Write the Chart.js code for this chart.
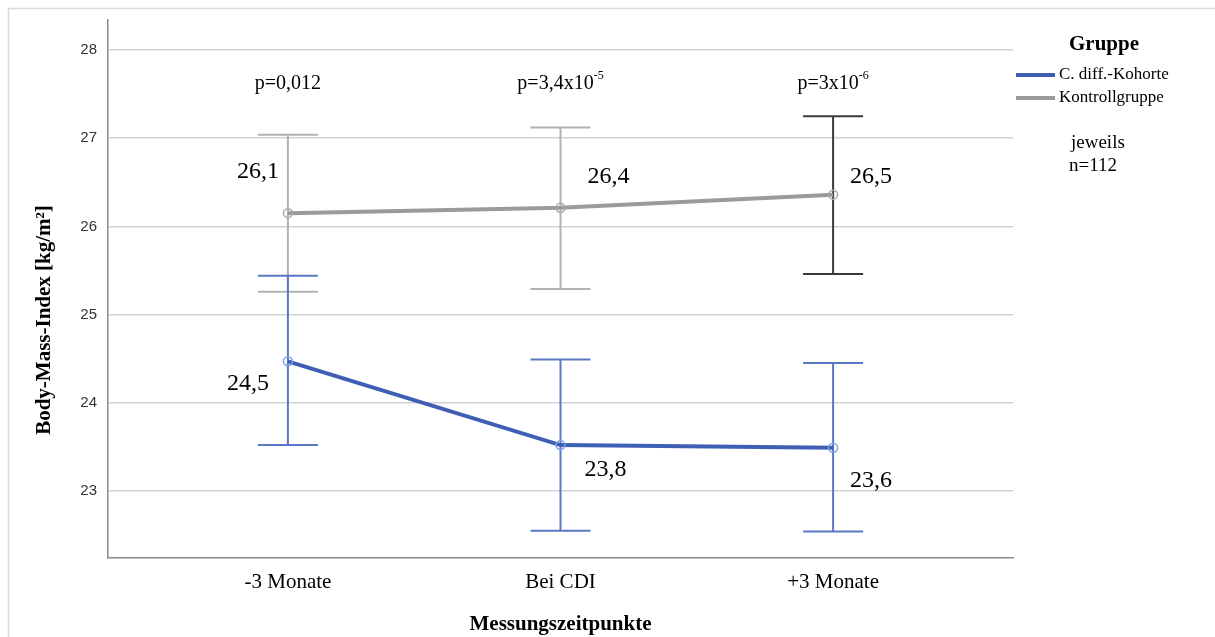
<!DOCTYPE html>
<html>
<head>
<meta charset="utf-8">
<script src="https://cdn.jsdelivr.net/npm/chart.js@4/dist/chart.umd.min.js"></script>
<style>
  html, body { margin: 0; padding: 0; background: #fff; }
  #wrap { width: 1215px; height: 637px; }
</style>
</head>
<body>
<div id="wrap"><canvas id="bmi"></canvas></div>
<script>
'use strict';

// Daten
const categories = ['-3 Monate', 'Bei CDI', '+3 Monate'];
const yTicks = [23, 24, 25, 26, 27, 28];

const cdiffMean = [24.47, 23.52, 23.49];
const cdiffLower = [23.52, 22.55, 22.54];
const cdiffUpper = [25.44, 24.49, 24.45];
const cdiffLabels = ['24,5', '23,8', '23,6'];

const kontrollMean = [26.15, 26.21, 26.36];
const kontrollLower = [25.26, 25.29, 25.46];
const kontrollUpper = [27.04, 27.12, 27.25];
const kontrollLabels = ['26,1', '26,4', '26,5'];

const pBase = ['p=0,012', 'p=3,4x10', 'p=3x10'];
const pExp = ['', '-5', '-6'];

const BLUE = '#3e5fb4';
const GRAY = '#9c9a9a';
const SERIF = '"Liberation Serif", "Times New Roman", serif';

// Beschriftungs-Versatz in Pixeln relativ zum Punkt
const cdiffOffsets = [[-40, 22], [45, 25], [38, 33]];
const kontrollOffsets = [[-30, -41], [48, -31], [38, -18]];

function toPoints(values) {
  return values.map((v, i) => ({ x: i, y: v }));
}

const errorBars = {
  id: 'errorBars',
  beforeDatasetsDraw(chart) {
    const ctx = chart.ctx;
    const xs = chart.scales.x, ys = chart.scales.y;
    const groups = [
      { lo: kontrollLower, hi: kontrollUpper, colors: ['#b2b2b2', '#b2b2b2', '#3a3a3a'] },
      { lo: cdiffLower, hi: cdiffUpper, colors: ['#5b78c4', '#5b78c4', '#5b78c4'] }
    ];
    ctx.save();
    ctx.lineWidth = 2;
    groups.forEach(g => {
      g.lo.forEach((lo, i) => {
        const px = xs.getPixelForValue(i);
        const top = ys.getPixelForValue(g.hi[i]);
        const bot = ys.getPixelForValue(lo);
        ctx.strokeStyle = g.colors[i];
        ctx.beginPath();
        ctx.moveTo(px, top); ctx.lineTo(px, bot);
        ctx.moveTo(px - 30, top); ctx.lineTo(px + 30, top);
        ctx.moveTo(px - 30, bot); ctx.lineTo(px + 30, bot);
        ctx.stroke();
      });
    });
    ctx.restore();
  }
};

const annotations = {
  id: 'annotations',
  afterDraw(chart) {
    const ctx = chart.ctx;
    const xs = chart.scales.x, ys = chart.scales.y;
    ctx.save();

    // Rahmen
    ctx.strokeStyle = '#dcdcdc';
    ctx.lineWidth = 1.5;
    ctx.beginPath();
    ctx.moveTo(8.5, 637); ctx.lineTo(8.5, 8.5); ctx.lineTo(1215, 8.5);
    ctx.stroke();

    // y-Achsentitel
    ctx.fillStyle = '#000';
    ctx.save();
    ctx.translate(45, 320);
    ctx.rotate(-Math.PI / 2);
    ctx.textAlign = 'center';
    ctx.textBaseline = 'middle';
    ctx.font = 'bold 21px ' + SERIF;
    ctx.fillText('Body-Mass-Index [kg/m²]', 0, 0);
    ctx.restore();

    // Werte
    ctx.textAlign = 'center';
    ctx.textBaseline = 'middle';
    ctx.font = '24px ' + SERIF;
    const put = (vals, labels, offs) => vals.forEach((v, i) => {
      ctx.fillText(labels[i], xs.getPixelForValue(i) + offs[i][0], ys.getPixelForValue(v) + offs[i][1]);
    });
    put(kontrollMean, kontrollLabels, kontrollOffsets);
    put(cdiffMean, cdiffLabels, cdiffOffsets);

    // p-Werte
    pBase.forEach((txt, i) => {
      const cx = xs.getPixelForValue(i);
      ctx.font = '20px ' + SERIF;
      const w1 = ctx.measureText(txt).width;
      ctx.font = '12px ' + SERIF;
      const w2 = pExp[i] ? ctx.measureText(pExp[i]).width : 0;
      const start = cx - (w1 + w2) / 2;
      ctx.textAlign = 'left';
      ctx.font = '20px ' + SERIF;
      ctx.fillText(txt, start, 84);
      if (pExp[i]) {
        ctx.font = '12px ' + SERIF;
        ctx.fillText(pExp[i], start + w1, 76);
      }
    });

    // Legende
    ctx.textAlign = 'center';
    ctx.font = 'bold 21px ' + SERIF;
    ctx.fillText('Gruppe', 1104, 45);
    ctx.lineWidth = 4;
    ctx.strokeStyle = BLUE;
    ctx.beginPath(); ctx.moveTo(1016, 75); ctx.lineTo(1055, 75); ctx.stroke();
    ctx.strokeStyle = GRAY;
    ctx.beginPath(); ctx.moveTo(1016, 98); ctx.lineTo(1055, 98); ctx.stroke();
    ctx.textAlign = 'left';
    ctx.font = '17px ' + SERIF;
    ctx.fillText('C. diff.-Kohorte', 1059, 75);
    ctx.fillText('Kontrollgruppe', 1059, 98);
    ctx.font = '19px ' + SERIF;
    ctx.fillText('jeweils', 1071, 143);
    ctx.fillText('n=112', 1069, 166);
    ctx.restore();
  }
};

const chart = new Chart(document.getElementById('bmi').getContext('2d'), {
  type: 'line',
  data: {
    datasets: [
      {
        label: 'Kontrollgruppe',
        data: toPoints(kontrollMean),
        borderColor: GRAY,
        borderWidth: 4,
        pointRadius: 4.5,
        pointBorderWidth: 1.5,
        pointBorderColor: '#a9a9a9',
        pointBackgroundColor: 'rgba(255,255,255,0)',
        order: 2
      },
      {
        label: 'C. diff.-Kohorte',
        data: toPoints(cdiffMean),
        borderColor: BLUE,
        borderWidth: 4,
        pointRadius: 4.5,
        pointBorderWidth: 1.5,
        pointBorderColor: '#78a4e6',
        pointBackgroundColor: 'rgba(255,255,255,0)',
        order: 1
      }
    ]
  },
  options: {
    responsive: true,
    maintainAspectRatio: false,
    animation: false,
    layout: { padding: { left: 8, top: 20, right: 202, bottom: 0 } },
    plugins: {
      legend: { display: false },
      tooltip: { enabled: false }
    },
    scales: {
      x: {
        type: 'linear',
        min: -0.66,
        max: 2.66,
        afterBuildTicks: s => { s.ticks = categories.map((c, i) => ({ value: i })); },
        afterFit: s => { s.height = 79; },
        grid: { display: false, drawTicks: false },
        border: { color: '#8a8a8a', width: 1.5 },
        ticks: {
          padding: 12,
          color: '#000',
          font: { family: SERIF, size: 21 },
          callback: v => categories[v]
        },
        title: {
          display: true,
          text: 'Messungszeitpunkte',
          color: '#000',
          font: { family: SERIF, size: 21, weight: 'bold' },
          padding: { top: 0, bottom: 0 }
        }
      },
      y: {
        min: 22.24,
        max: 28.34,
        afterBuildTicks: s => { s.ticks = yTicks.map(v => ({ value: v })); },
        afterFit: s => { s.width = 100; },
        grid: { color: '#d2d2d2', lineWidth: 1.5, drawTicks: false },
        border: { color: '#8a8a8a', width: 1.5 },
        ticks: {
          padding: 11,
          color: '#333',
          font: { family: '"Liberation Sans", Arial, sans-serif', size: 15 }
        }
      }
    }
  },
  plugins: [errorBars, annotations]
});
</script>
</body>
</html>
